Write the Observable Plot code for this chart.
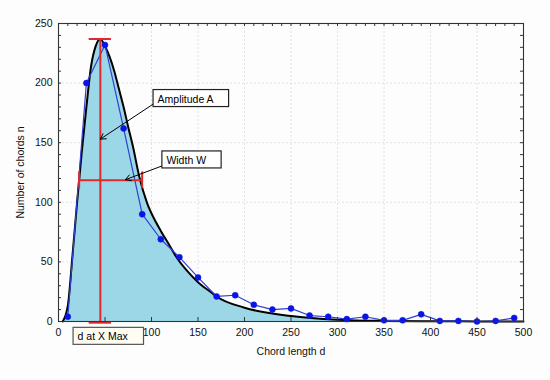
<!DOCTYPE html>
<html>
<head>
<meta charset="utf-8">
<script src="https://cdn.jsdelivr.net/npm/d3@7"></script>
<script src="https://cdn.jsdelivr.net/npm/@observablehq/plot@0.6"></script>
<style>
  html, body { margin: 0; padding: 0; background: #fcfdfc; }
  svg text { font-family: "Liberation Sans", Arial, sans-serif; }
</style>
</head>
<body>
<div id="chart"></div>
<script>
// Observed histogram: chord length d (bin centres) and number of chords n
const chordLength = [10, 30, 50, 70, 90, 110, 130, 150, 170, 190, 210, 230, 250, 270, 290, 310, 330, 350, 370, 390, 410, 430, 450, 470, 490];
const chordCount  = [4, 200, 232, 162, 90, 69, 54, 37, 21, 22, 14, 10, 11, 5, 4, 2, 4, 1, 1, 6, 0.5, 0.5, 0, 0.5, 3];

// Fitted distribution curve
const fitLength = [4.5, 10, 15, 20, 25, 30, 35, 40, 45, 50, 55, 60, 65, 70, 75, 80, 87, 95, 105, 110, 120, 126, 140, 150, 165, 170, 200, 250, 300, 350, 400, 450, 500];
const fitCount  = [0, 13, 55, 100, 142, 180, 214, 231, 237, 231, 222, 210, 195, 180, 163, 147, 121, 100, 83, 76, 63, 55, 41, 33, 24, 21, 11.6, 4.6, 1.5, 0.5, 0.2, 0.1, 0];

// Axis ticks (the "50" label is hidden behind the "d at X Max" box in the original)
const xTicks = [0, 50, 100, 150, 200, 250, 300, 350, 400, 450, 500];
const xTickLabels = [0, 100, 150, 200, 250, 300, 350, 400, 450, 500];
const yTicks = [0, 50, 100, 150, 200, 250];
const xMinor = d3.range(0, 501, 10);
const yMinor = d3.range(0, 251, 10);

// Annotation labels
const labelAmplitude = "Amplitude A";
const labelWidth = "Width W";
const labelPeak = "d at X Max";

const obs = chordLength.map((d, i) => ({d, n: chordCount[i]}));
const fit = fitLength.map((d, i) => ({d, n: fitCount[i]}));

// derived quantities: peak of the fitted curve and width at half maximum
const iMax = d3.maxIndex(fitCount);
const peakX = fitLength[iMax], peakY = fitCount[iMax];
const half = peakY / 2;
function crossing(from, step) {
  for (let i = from; i + step >= 0 && i + step < fitCount.length; i += step) {
    const a = fitCount[i], b = fitCount[i + step];
    if ((a - half) * (b - half) <= 0) {
      const t = (half - a) / (b - a);
      return fitLength[i] + t * (fitLength[i + step] - fitLength[i]);
    }
  }
}
const wLeft = crossing(iMax, -1), wRight = crossing(iMax, 1) + 2;

const red = "#e0282a";
const capX = 12, capY = 7;

const chart = Plot.plot({
  width: 550, height: 380,
  marginLeft: 58, marginRight: 27, marginTop: 23, marginBottom: 59,
  style: {background: "#fcfdfc", fontSize: "10px", fontFamily: "Liberation Sans, Arial, sans-serif", color: "#111"},
  x: {domain: [0, 500]},
  y: {domain: [0, 250]},
  marks: [
    Plot.ruleX(xTicks.slice(1, -1), {x: d => d, stroke: "#e2e2e2", strokeDasharray: "2,2"}),
    Plot.ruleY(yTicks.slice(1, -1), {y: d => d, stroke: "#e2e2e2", strokeDasharray: "2,2"}),
    Plot.areaY(fit, {x: "d", y: "n", fill: "#9bd7e7", curve: "monotone-x"}),
    Plot.line(fit, {x: "d", y: "n", stroke: "#000", strokeWidth: 2, curve: "monotone-x"}),
    Plot.line(obs, {x: "d", y: "n", stroke: "#3040d0", strokeWidth: 1.2}),
    Plot.dot(obs, {x: "d", y: "n", r: 3, fill: "#0a14e6", stroke: "#0a14e6", strokeWidth: 0.5}),
    // amplitude (red vertical with caps)
    Plot.ruleX([peakX], {x: d => d, y1: -1, y2: peakY, stroke: red, strokeWidth: 2}),
    Plot.ruleY([-1, peakY], {y: d => d, x1: peakX - capX, x2: peakX + capX, stroke: red, strokeWidth: 2}),
    // width at half maximum
    Plot.ruleY([half], {y: d => d, x1: wLeft, x2: wRight, stroke: red, strokeWidth: 2}),
    Plot.ruleX([wLeft, wRight], {x: d => d, y1: half - capY, y2: half + capY, stroke: red, strokeWidth: 2}),
    // arrows
    Plot.arrow([{x1: 103, y1: 183, x2: peakX, y2: 153}], {x1: "x1", y1: "y1", x2: "x2", y2: "y2", stroke: "#000", strokeWidth: 1, headLength: 9, bend: 0}),
    Plot.arrow([{x1: 113, y1: 131, x2: 72, y2: half + 0.5}], {x1: "x1", y1: "y1", x2: "x2", y2: "y2", stroke: "#000", strokeWidth: 1, headLength: 9, bend: 0}),
    // annotation labels
    Plot.text([labelAmplitude], {x: 106.5, y: 186.5, text: d => d, textAnchor: "start", fontSize: 10.5, fill: "#000", className: "boxed"}),
    Plot.text([labelWidth], {x: 116, y: 135, text: d => d, textAnchor: "start", fontSize: 10.5, fill: "#000", className: "boxed"}),
    // minor ticks on the frame
    Plot.tickX(xMinor, {x: d => d, stroke: "#333", insetBottom: 295}),
    Plot.tickY(yMinor, {y: d => d, stroke: "#333", insetLeft: 462}),
    Plot.tickY(yMinor, {y: d => d, stroke: "#333", insetRight: 462}),
    Plot.tickX(xTicks, {x: d => d, stroke: "#333", insetTop: 294}),
    Plot.frame({stroke: "#333", strokeWidth: 1.1}),
    Plot.axisX(xTickLabels, {tickSize: 0, tickPadding: 7, label: "Chord length d", labelAnchor: "center", labelArrow: "none", labelOffset: 33, fontSize: 10.5}),
    Plot.axisY(yTicks, {tickSize: 0, tickPadding: 6, label: "Number of chords n", labelAnchor: "center", labelArrow: "none", labelOffset: 42, fontSize: 10.5}),
    Plot.text([labelPeak], {x: 20.5, y: -13, text: d => d, textAnchor: "start", fontSize: 10.5, fill: "#000", className: "boxedcream"})
  ]
});

document.getElementById("chart").appendChild(chart);

// draw boxes behind boxed labels
function boxIt(cls, fill, stroke, padRight) {
  chart.querySelectorAll("g." + cls + " text").forEach(t => {
    const b = t.getBBox();
    const r = document.createElementNS("http://www.w3.org/2000/svg", "rect");
    r.setAttribute("x", b.x - 4.5);
    r.setAttribute("y", b.y - 3);
    r.setAttribute("width", b.width + 4.5 + padRight);
    r.setAttribute("height", b.height + 5);
    r.setAttribute("fill", fill);
    r.setAttribute("stroke", stroke);
    r.setAttribute("stroke-width", 1.2);
    const tr = t.getAttribute("transform");
    if (tr) r.setAttribute("transform", tr);
    t.parentNode.insertBefore(r, t);
  });
}
boxIt("boxed", "#ffffff", "#222", 15);
boxIt("boxedcream", "#fffdf2", "#555", 15);
</script>
</body>
</html>
